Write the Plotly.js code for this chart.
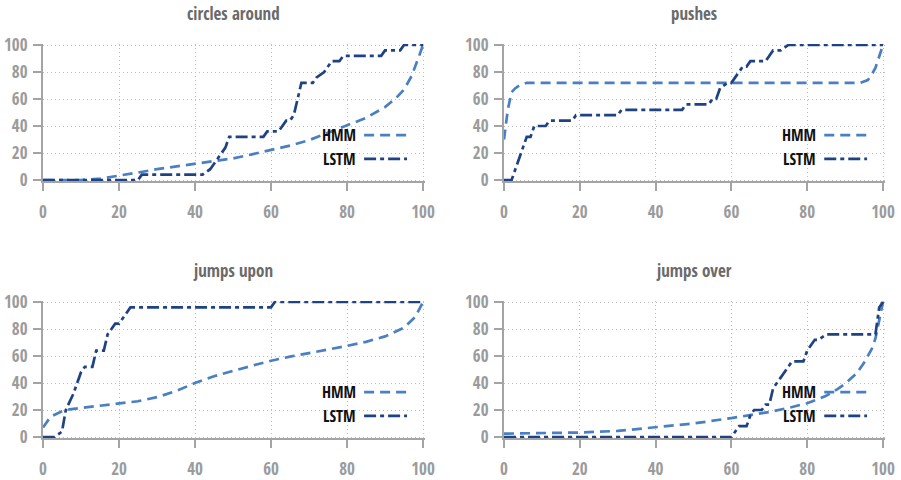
<!DOCTYPE html>
<html>
<head>
<meta charset="utf-8">
<script src="https://cdn.plot.ly/plotly-3.0.1.min.js"></script>
<style>html,body{margin:0;padding:0;background:#fff;}#chart{width:901px;height:480px;}</style>
</head>
<body>
<div id="chart"></div>
<script>
// ---- data ----
var titles = ["circles around", "pushes", "jumps upon", "jumps over"];
var seriesNames = ["HMM", "LSTM"];
var tickVals = [0, 20, 40, 60, 80, 100];

var circlesHmmX = [0,10,15,20,25,30,35,40,45,50,55,60,65,70,75,80,85,90,93,95,97,99,100];
var circlesHmmY = [0,0,1,3,5.5,8,10,12,14,16,19,22,25.5,29.5,35,40.5,46,54,61,67,77,92,100];
var circlesLstmX = [0,25,26,42,44,45,47,48,49,58,59,62,63,64,65,66,67,68,71,72,74,75,76,78,79,89,90,94,95,100];
var circlesLstmY = [0,0,4,4,8,12,20,24,32,32,36,36,40,44,44,48,60,72,72,76,80,84,88,88,92,92,96,96,100,100];

var pushesHmmX = [0,1,2,3,4,5,6,10,30,60,90,94,96,97,98,99,100];
var pushesHmmY = [30,52,65,68,70,71,72,72,72,72,72,72,74,78,83,91,100];
var pushesLstmX = [0,2,3,5,6,7,8,11,12,18,19,30,31,47,48,54,55,56,57,59,60,61,63,64,65,69,71,73,75,100];
var pushesLstmY = [0,0,8,24,32,32,40,40,44,44,48,48,52,52,56,56,60,60,68,72,72,76,84,84,88,88,96,96,100,100];

var uponHmmX = [0,2,5,7,10,15,20,25,30,35,40,45,50,55,60,65,70,75,80,85,90,95,98,100];
var uponHmmY = [7,15,19,20.5,21.5,23,24.5,26.5,29.5,34,40,45,49,53,56.5,59.5,62,65,67.5,70.5,74.5,81,89,100];
var uponLstmX = [0,3,5,6,8,10,11,13,14,16,17,18,19,20,22,23,60,61,100];
var uponLstmY = [0,0,4,20,32,48,52,52,64,64,76,80,84,84,92,96,96,100,100];

var overHmmX = [0,10,20,30,40,50,60,65,70,75,80,85,88,90,93,95,97,98,99,100];
var overHmmY = [2.5,2.8,3.3,4.5,7,10,14,16,18.5,21.5,25,30.5,35.5,39.5,47,55,65,73,87,100];
var overLstmX = [0,60,62,64,65,66,68,69,70,71,73,74,76,79,80,82,83,85,98,99,100];
var overLstmY = [0,0,8,8,16,20,20,24,24,36,44,48,56,56,64,72,72,76,76,96,100];

// ---- styling ----
var FONT = '"Open Sans Condensed", "Liberation Sans Narrow", "DejaVu Sans Condensed", "Open Sans", sans-serif';
var HMM_COLOR = '#4a7fc1';
var LSTM_COLOR = '#1f4283';
var HMM_DASH = '10px,6px';
var LSTM_DASH = '12px,4px,4px,4px';

var panels = [
  {hx: circlesHmmX, hy: circlesHmmY, lx: circlesLstmX, ly: circlesLstmY},
  {hx: pushesHmmX, hy: pushesHmmY, lx: pushesLstmX, ly: pushesLstmY},
  {hx: uponHmmX, hy: uponHmmY, lx: uponLstmX, ly: uponLstmY},
  {hx: overHmmX, hy: overHmmY, lx: overLstmX, ly: overLstmY}
];

var W = 901, H = 480;
// pixel boxes of each plot (value 0..100 mapped to these pixels)
var boxes = [
  {l: 43, r: 423, t: 45, b: 180},
  {l: 504, r: 883, t: 45, b: 180},
  {l: 43, r: 423, t: 302, b: 437},
  {l: 504, r: 883, t: 302, b: 437}
];
var XPAD = 0.6, YPAD = 0.8; // small padding so lines on the frame are not clipped

var traces = [];
var layout = {
  width: W, height: H,
  margin: {l: 0, r: 0, t: 0, b: 0},
  paper_bgcolor: '#fff', plot_bgcolor: '#fff',
  showlegend: false,
  annotations: [], shapes: []
};

function axisBase(dom, range, isX) {
  return {
    domain: dom, range: range, tickvals: tickVals, ticktext: tickVals.map(String),
    showgrid: true, gridcolor: '#bdbdbd', griddash: '1px,3px', gridwidth: 1,
    showline: true, linecolor: '#a4a4a4', linewidth: 2,
    ticks: 'outside', ticklen: 8, tickwidth: 2, tickcolor: '#a4a4a4',
    ticklabelstandoff: isX ? 7 : 2,
    tickfont: {family: FONT, size: 17, color: '#9b9b9b', weight: 'bold'},
    zeroline: false, fixedrange: true, layer: 'below traces'
  };
}

panels.forEach(function (p, i) {
  var n = i === 0 ? '' : String(i + 1);
  var xa = 'x' + n, ya = 'y' + n;
  var b = boxes[i];
  var pxX = (b.r - b.l) / 100, pxY = (b.b - b.t) / 100;
  var xDom = [b.l / W, (b.r + XPAD * pxX) / W];
  var yDom = [1 - (b.b + YPAD * pxY) / H, 1 - (b.t - YPAD * pxY) / H];
  layout['xaxis' + n] = Object.assign(axisBase(xDom, [0, 100 + XPAD], true), {anchor: ya});
  layout['yaxis' + n] = Object.assign(axisBase(yDom, [-YPAD, 100 + YPAD], false), {anchor: xa});

  traces.push({x: p.hx, y: p.hy, xaxis: xa, yaxis: ya, type: 'scatter', mode: 'lines', name: seriesNames[0],
    line: {color: HMM_COLOR, width: 2.7, dash: HMM_DASH}});
  traces.push({x: p.lx, y: p.ly, xaxis: xa, yaxis: ya, type: 'scatter', mode: 'lines', name: seriesNames[1],
    line: {color: LSTM_COLOR, width: 2.7, dash: LSTM_DASH}});

  var xd = xa + ' domain', yd = ya + ' domain';
  // positions in plot-box fractions converted to domain fractions
  var dW = (b.r - b.l) + XPAD * pxX, dH = (b.b - b.t) + 2 * YPAD * pxY;
  function fx(f) { return f * (b.r - b.l) / dW; }
  function fy(f) { return (YPAD * pxY + f * (b.b - b.t)) / dH; }
  layout.annotations.push({text: titles[i], xref: xd, yref: yd, x: fx(0.5), y: fy(1.235), xanchor: 'center', yanchor: 'middle',
    showarrow: false, font: {family: FONT, size: 17, color: '#6a6a6a', weight: 'bold'}});
  var legY = [0.333, 0.157];
  var cols = [HMM_COLOR, LSTM_COLOR], dashes = [HMM_DASH, LSTM_DASH];
  for (var k = 0; k < 2; k++) {
    layout.annotations.push({text: seriesNames[k], xref: xd, yref: yd, x: fx(0.829), y: fy(legY[k]), xanchor: 'right', yanchor: 'middle',
      showarrow: false, font: {family: FONT, size: 16, color: '#111', weight: 'bold'}});
    layout.shapes.push({type: 'line', xref: xd, yref: yd, x0: fx(0.845), x1: fx(0.958), y0: fy(legY[k]), y1: fy(legY[k]),
      line: {color: cols[k], width: 2.7, dash: dashes[k]}});
  }
});

Plotly.newPlot('chart', traces, layout, {displayModeBar: false, staticPlot: true});
</script>
</body>
</html>
